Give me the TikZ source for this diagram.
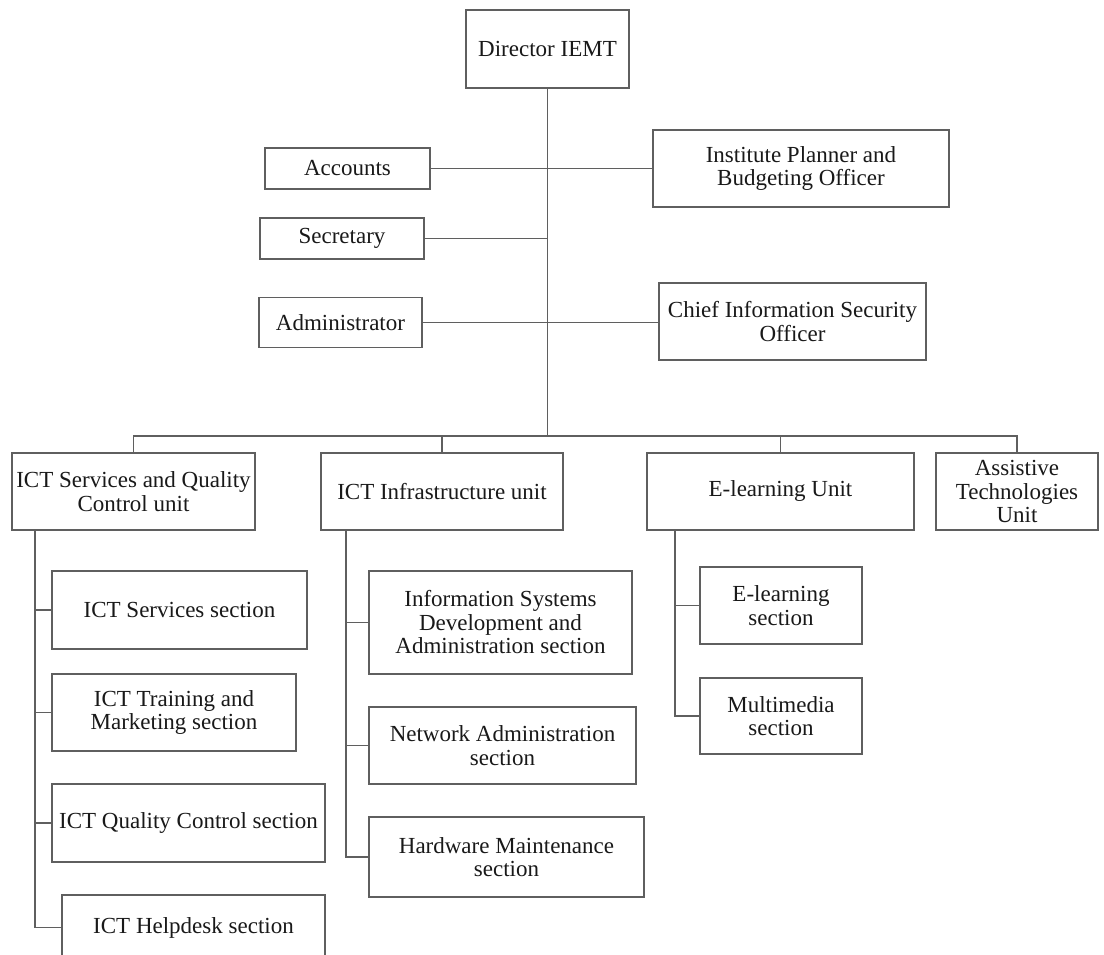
\documentclass[tikz,border=0pt]{standalone}
\usepackage{fontspec}
\setmainfont{Liberation Serif}
\definecolor{ln}{RGB}{95,95,95}
\tikzset{
  ob/.style={draw=ln, line width=1.3pt, rectangle, inner sep=0pt, align=center,
    font={\fontsize{23}{23.5}\selectfont}, text=black!90},
  cn/.style={draw=ln, line width=1.3pt}
}
\begin{document}
\begin{tikzpicture}[x=1pt,y=-1pt]
\useasboundingbox (0,0) rectangle (1104,955);
\clip (0,0) rectangle (1104,955);
\fill[white] (0,0) rectangle (1104,955);
% top level
\node[ob, minimum width=163, minimum height=78] (dir) at (547.5,49) {Director IEMT};
\node[ob, minimum width=165, minimum height=41] (acc) at (347.5,168.5) {Accounts};
\node[ob, minimum width=296, minimum height=77] (ipb) at (801,168.5) {Institute Planner and\\Budgeting Officer};
\node[ob, minimum width=164, minimum height=41] (sec) at (342,238.5) {Secretary};
\node[ob, minimum width=163, minimum height=50] (adm) at (340.5,322.5) {Administrator};
\node[ob, minimum width=267, minimum height=77] (ciso) at (792.5,321.5) {Chief Information Security\\Officer};
% units
\node[ob, minimum width=243, minimum height=77] (svc) at (133.5,491.5) {ICT Services and Quality\\Control unit};
\node[ob, minimum width=242, minimum height=77] (inf) at (442,491.5) {ICT Infrastructure unit};
\node[ob, minimum width=267, minimum height=77] (elu) at (780.5,491.5) {E-learning Unit};
\node[ob, minimum width=162, minimum height=77] (atu) at (1017,491.5) {Assistive\\Technologies\\Unit};
% sections
\node[ob, minimum width=255, minimum height=78] (s1) at (179.5,610) {ICT Services section};
\node[ob, minimum width=244, minimum height=77] (s2) at (174,712.5) {ICT Training and\\Marketing section};
\node[ob, minimum width=273, minimum height=78] (s3) at (188.5,823) {ICT Quality Control section};
\node[ob, minimum width=263, minimum height=65] (s4) at (193.5,927.5) {ICT Helpdesk section};
\node[ob, minimum width=263, minimum height=103] (i1) at (500.5,622.5) {Information Systems\\Development and\\Administration section};
\node[ob, minimum width=267, minimum height=77] (i2) at (502.5,745.5) {Network Administration\\section};
\node[ob, minimum width=275, minimum height=80] (i3) at (506.5,857) {Hardware Maintenance\\section};
\node[ob, minimum width=162, minimum height=77] (e1) at (781,605.5) {E-learning\\section};
\node[ob, minimum width=162, minimum height=76] (e2) at (781,716) {Multimedia\\section};
% junctions
\coordinate (j) at (547.5,436);
\coordinate (sv) at (35,530);
\coordinate (iv) at (346,530);
\coordinate (ev) at (675,530);
% connectors
\draw[cn] (dir.south) -- (j);
\draw[cn] (acc.east) -- (ipb.west);
\draw[cn] (sec.east) -- (sec.east -| j);
\draw[cn] (adm.east) -- (adm.east -| ciso.west);
\draw[cn] (svc.north) |- (j) -| (atu.north);
\draw[cn] (inf.north) -- (inf.north |- j);
\draw[cn] (elu.north) -- (elu.north |- j);
\draw[cn] (sv) |- (s4.west);
\draw[cn] (sv |- s1.west) -- (s1.west);
\draw[cn] (sv |- s2.west) -- (s2.west);
\draw[cn] (sv |- s3.west) -- (s3.west);
\draw[cn] (iv) |- (i3.west);
\draw[cn] (iv |- i1.west) -- (i1.west);
\draw[cn] (iv |- i2.west) -- (i2.west);
\draw[cn] (ev) |- (e2.west);
\draw[cn] (ev |- e1.west) -- (e1.west);
\end{tikzpicture}
\end{document}
